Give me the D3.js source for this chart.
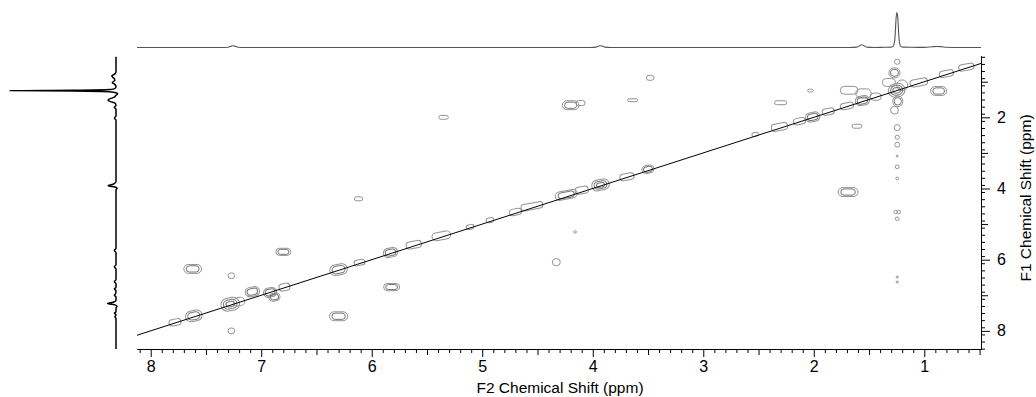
<!DOCTYPE html>
<html><head><meta charset="utf-8">
<script src="https://cdn.jsdelivr.net/npm/d3@7"></script>
<style>
body{margin:0;background:#fff}
svg{display:block}
text{font-family:"Liberation Sans",Arial,sans-serif;fill:#000}
</style>
</head><body>
<svg id="chart" width="1036" height="397"></svg>
<script>
// ---- data (ppm) ----
const f2Ticks = [8, 7, 6, 5, 4, 3, 2, 1];
const f1Ticks = [2, 4, 6, 8];
const f2Label = "F2 Chemical Shift (ppm)";
const f1Label = "F1 Chemical Shift (ppm)";
const f2Range = [8.124, 0.487];
const f1Range = [0.277, 8.51];

// 1D projection on top: [ppm, intensity]
const topSpectrum = [
  [8.124,0],[7.36,0],[7.30,0.8],[7.27,4],[7.255,5],[7.24,4],[7.21,0.8],[7.15,0],
  [4.02,0],[3.97,1],[3.945,4.5],[3.93,5],[3.915,4.5],[3.89,1],[3.84,0],
  [1.68,0],[1.61,1],[1.58,6],[1.565,8],[1.55,6],[1.52,1],[1.45,0],
  [1.36,0.6],[1.30,1],[1.28,4],[1.265,30],[1.255,85],[1.248,100],[1.24,85],[1.23,30],[1.215,4],[1.195,1],[1.12,0.5],
  [1.0,0.3],[0.93,2],[0.89,3],[0.85,2.5],[0.80,0.5],[0.70,0],[0.487,0]
];
// 1D projection on left: [ppm, intensity]
const leftSpectrum = [
  [0.30,0],[0.72,0],[0.78,1],[0.84,4],[0.90,2],[0.96,1],[1.02,3.5],[1.08,1],[1.14,0],
  [1.19,1],[1.22,6],[1.24,40],[1.25,100],[1.26,40],[1.28,6],[1.31,0],[1.34,-1.5],[1.38,0],
  [1.44,2],[1.48,6],[1.52,7.5],[1.56,5],[1.60,1],[1.66,0],[1.72,1.5],[1.78,0],[1.96,0],[2.02,1.5],[2.08,0],
  [3.80,0],[3.87,2],[3.92,7.5],[3.96,1],[3.99,-1],[4.04,0],
  [5.68,0],[5.74,1.5],[5.80,0],[6.14,0],[6.20,1.5],[6.26,0],[6.56,0],[6.62,1.5],[6.68,0],
  [6.78,0],[6.82,1.5],[6.88,0],[6.96,0.5],[7.0,1.5],[7.05,0],
  [7.14,0],[7.19,2],[7.23,8],[7.27,1],[7.31,-1],[7.36,0],[7.46,0],[7.50,1.5],[7.55,0],[7.60,1],[7.66,0],[8.51,0]
];

// cross peaks: [F2 ppm, F1 ppm, width ppm, height ppm, levels]
const crossPeaks = [
  [5.35,2.00,0.085,0.11,1],[4.20,1.66,0.15,0.25,2],[4.11,1.60,0.08,0.14,1],[3.64,1.52,0.09,0.08,1],
  [3.48,0.89,0.07,0.14,1],[2.03,1.25,0.05,0.08,1],[2.30,1.59,0.11,0.11,1],[1.61,2.25,0.09,0.11,1],
  [0.87,1.26,0.145,0.25,2],[1.69,4.10,0.18,0.25,2],[4.16,5.22,0.025,0.06,1],[4.33,6.07,0.072,0.2,1],
  [6.12,4.29,0.075,0.11,1],[6.80,5.78,0.135,0.2,2],[7.62,6.26,0.16,0.25,2],[7.27,6.45,0.06,0.16,1],
  [6.30,7.59,0.165,0.25,2],[7.27,8.00,0.06,0.16,1],[5.82,6.77,0.145,0.2,2],
  [1.245,0.44,0.05,0.14,1],[1.245,2.29,0.055,0.17,1],[1.245,2.56,0.04,0.11,1],[1.245,2.77,0.045,0.14,1],
  [1.245,3.09,0.018,0.05,1],[1.245,3.39,0.035,0.11,1],[1.245,3.72,0.025,0.08,1],[1.26,4.66,0.03,0.1,1],
  [1.23,4.66,0.03,0.1,1],[1.245,4.85,0.035,0.1,1],[1.245,6.49,0.02,0.06,1],[1.245,6.63,0.02,0.06,1],
  [1.27,0.75,0.10,0.28,2],[1.32,1.02,0.12,0.22,1],[1.24,1.55,0.09,0.30,2],[1.27,1.80,0.07,0.22,1],
  [1.68,1.24,0.16,0.22,1],[1.55,1.33,0.14,0.26,1],[1.44,1.42,0.10,0.2,1],[1.20,1.10,0.10,0.3,1]
];
// diagonal peaks: [F2 ppm, F1 ppm, width ppm, height ppm, levels]
const diagPeaks = [
  [7.78,7.76,0.11,0.18,1],[7.61,7.58,0.15,0.30,2],[7.28,7.25,0.17,0.36,3],[7.20,7.18,0.10,0.24,1],
  [7.08,6.90,0.13,0.26,2],[6.92,6.92,0.12,0.26,2],[6.88,7.05,0.10,0.22,2],[6.79,6.77,0.10,0.2,1],
  [6.30,6.28,0.16,0.30,2],[6.11,6.08,0.10,0.16,1],[5.83,5.80,0.13,0.26,2],[5.62,5.58,0.14,0.2,1],
  [5.37,5.33,0.17,0.22,1],[5.11,5.08,0.07,0.13,1],[4.93,4.89,0.07,0.13,1],[4.70,4.66,0.11,0.18,1],
  [4.55,4.50,0.20,0.18,1],[4.24,4.18,0.20,0.24,2],[4.10,4.05,0.12,0.2,1],[3.93,3.90,0.16,0.30,3],
  [3.69,3.67,0.13,0.18,1],[3.50,3.46,0.11,0.22,2],[2.53,2.48,0.06,0.11,1],[2.31,2.27,0.15,0.2,1],
  [2.13,2.11,0.11,0.18,1],[2.01,1.99,0.13,0.26,2],[1.87,1.84,0.11,0.18,1],[1.70,1.68,0.12,0.18,1],
  [1.56,1.53,0.13,0.26,2],[1.25,1.24,0.15,0.38,3],[1.05,1.02,0.16,0.2,1],[0.80,0.77,0.13,0.18,1],
  [0.62,0.59,0.14,0.18,1]
];

// ---- drawing ----
const svg = d3.select("#chart");
const x = d3.scaleLinear().domain(f2Range).range([137, 981]);
const y = d3.scaleLinear().domain(f1Range).range([56, 349]);
const topI = d3.scaleLinear().domain([0, 100]).range([47.5, 12.5]);
const leftI = d3.scaleLinear().domain([0, 100]).range([116, 10]);

// top projection
svg.append("path").datum(topSpectrum)
  .attr("fill","none").attr("stroke","#555").attr("stroke-width",1.1)
  .attr("d", d3.line().x(d=>x(d[0])).y(d=>topI(d[1])).curve(d3.curveMonotoneX));
// left projection
svg.append("path").datum(leftSpectrum)
  .attr("fill","none").attr("stroke","#000").attr("stroke-width",1.5)
  .attr("d", d3.line().x(d=>leftI(d[1])).y(d=>y(d[0])).curve(d3.curveMonotoneY));

const plot = svg.append("g");
const angle = Math.atan2(y(f2Range[1]) - y(f2Range[0]), x(f2Range[1]) - x(f2Range[0])) * 180 / Math.PI;

function drawPeaks(list, rotate) {
  list.forEach(p => {
    const cx = x(p[0]), cy = y(p[1]);
    const w = Math.abs(x(p[0] + p[2]/2) - x(p[0] - p[2]/2));
    const h = Math.abs(y(p[1] + p[3]/2) - y(p[1] - p[3]/2));
    for (let i = 0; i < p[4]; i++) {
      const sw = w * (1 - 0.27*i), sh = h * (1 - 0.3*i);
      plot.append("rect")
        .attr("x", cx - sw/2).attr("y", cy - sh/2)
        .attr("width", sw).attr("height", sh)
        .attr("rx", Math.min(sw, sh)/2).attr("ry", Math.min(sw, sh)/2)
        .attr("fill","none")
        .attr("stroke", i === 0 ? "#939393" : "#767676")
        .attr("stroke-width", 1)
        .attr("transform", rotate ? `rotate(${angle*0.6},${cx},${cy})` : null);
    }
  });
}
drawPeaks(crossPeaks, false);
drawPeaks(diagPeaks, true);

// diagonal line
svg.append("line")
  .attr("x1", x(f2Range[0])).attr("y1", y(f2Range[0]))
  .attr("x2", x(f2Range[1])).attr("y2", y(f2Range[1]))
  .attr("stroke","#000").attr("stroke-width",1);

// x axis
const xMinor = d3.range(5, 82).map(v => v/10).filter(v => v % 1 !== 0 && Math.abs(v*10 % 10 - 5) > 1e-6);
const xHalf = d3.range(1, 9).map(v => v - 0.5).filter(v => v <= 8.124 && v >= 0.487);
const gx = svg.append("g").attr("transform","translate(0,349)");
gx.append("g").call(d3.axisBottom(x).tickValues(xMinor).tickSize(4).tickFormat("").tickSizeOuter(0));
gx.append("g").call(d3.axisBottom(x).tickValues(xHalf).tickSize(6).tickFormat("").tickSizeOuter(0));
gx.append("g").call(d3.axisBottom(x).tickValues(f2Ticks).tickSize(8).tickPadding(4).tickFormat(d3.format("d")).tickSizeOuter(0));
gx.selectAll("text").attr("font-size", 16).style("font-family","Liberation Sans, Arial, sans-serif");

// y axis
const yMinor = d3.range(3, 86, 2).map(v => v/10);
const yOdd = [1, 3, 5, 7];
const gy = svg.append("g").attr("transform","translate(981,0)");
gy.append("g").call(d3.axisRight(y).tickValues(yMinor).tickSize(4).tickFormat("").tickSizeOuter(0));
gy.append("g").call(d3.axisRight(y).tickValues(yOdd).tickSize(7).tickFormat("").tickSizeOuter(0));
gy.append("g").call(d3.axisRight(y).tickValues(f1Ticks).tickSize(9).tickPadding(7).tickFormat(d3.format("d")).tickSizeOuter(0));
gy.selectAll("text").attr("font-size", 16).style("font-family","Liberation Sans, Arial, sans-serif");
svg.selectAll(".domain").attr("stroke","#000");
svg.selectAll(".tick line").attr("stroke","#000");

// axis titles
svg.append("text").attr("x", 560).attr("y", 393).attr("text-anchor","middle")
  .attr("font-size", 15.5).text(f2Label);
svg.append("text").attr("transform","translate(1031,198) rotate(-90)").attr("text-anchor","middle")
  .attr("font-size", 15.5).text(f1Label);
</script>
</body></html>
